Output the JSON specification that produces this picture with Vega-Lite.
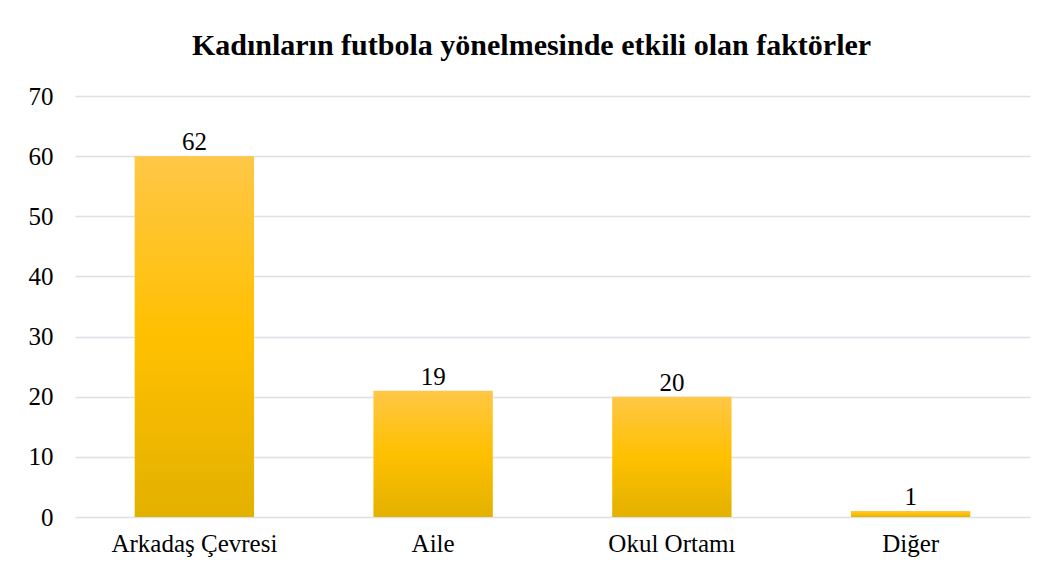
{
  "$schema": "https://vega.github.io/schema/vega-lite/v6.json",
  "autosize": {"type": "none"},
  "width": 955,
  "height": 421,
  "padding": {"left": 75, "top": 96, "right": 18, "bottom": 59},
  "background": "white",
  "title": {
    "text": "Kadınların futbola yönelmesinde etkili olan faktörler",
    "font": "Liberation Serif",
    "fontSize": 30,
    "fontWeight": "bold",
    "color": "#000000",
    "anchor": "middle",
    "frame": "group",
    "baseline": "alphabetic",
    "offset": 30,
    "dx": -21,
    "dy": 31
  },
  "data": {
    "values": [
      {"kategori": "Arkadaş Çevresi", "deger": 60, "etiket": "62"},
      {"kategori": "Aile", "deger": 21, "etiket": "19"},
      {"kategori": "Okul Ortamı", "deger": 20, "etiket": "20"},
      {"kategori": "Diğer", "deger": 1, "etiket": "1"}
    ]
  },
  "encoding": {
    "x": {
      "field": "kategori",
      "type": "nominal",
      "sort": null,
      "scale": {"paddingInner": 0.5, "paddingOuter": 0.25},
      "axis": {
        "title": null,
        "labelAngle": 0,
        "domain": false,
        "ticks": false,
        "labelPadding": 14,
        "labelFont": "Liberation Serif",
        "labelFontSize": 25,
        "labelColor": "#000000"
      }
    },
    "y": {
      "field": "deger",
      "type": "quantitative",
      "scale": {"domain": [0, 70], "nice": false},
      "axis": {
        "title": null,
        "values": [0, 10, 20, 30, 40, 50, 60, 70],
        "domain": false,
        "ticks": false,
        "labelPadding": 22,
        "labelFont": "Liberation Serif",
        "labelFontSize": 25,
        "labelColor": "#000000",
        "gridColor": "#DCE0E7",
        "gridWidth": 1.5
      }
    }
  },
  "layer": [
    {
      "mark": {
        "type": "bar",
        "fill": {
          "gradient": "linear",
          "x1": 0, "y1": 0, "x2": 0, "y2": 1,
          "stops": [
            {"offset": 0, "color": "#FFC746"},
            {"offset": 0.5, "color": "#FFC000"},
            {"offset": 1, "color": "#E3B100"}
          ]
        }
      }
    },
    {
      "mark": {
        "type": "text",
        "baseline": "alphabetic",
        "dy": -6,
        "font": "Liberation Serif",
        "fontSize": 25,
        "color": "#000000"
      },
      "encoding": {"text": {"field": "etiket", "type": "nominal"}}
    }
  ],
  "config": {
    "view": {"stroke": null}
  }
}
